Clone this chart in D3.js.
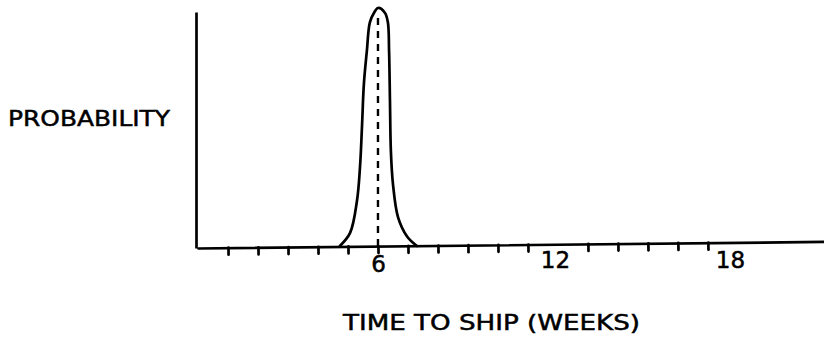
<!DOCTYPE html>
<html lang="en">
<head>
  <meta charset="UTF-8">
  <title>Time to ship</title>
  <script src="https://d3js.org/d3.v7.min.js"></script>
  <style>
    body {margin: 0; padding: 0; background: #fff;}
    svg {display: block;}
    text {font-family: "DejaVu Sans", sans-serif; fill: #000; stroke: #000; stroke-width: 0.5px;}
  </style>
</head>
<body>
  <div id="chart"></div>
  <script>
    // shape of the estimate (peak normalised to 1)
    const weeks = [4.73, 5.07, 5.3, 5.4, 5.47, 5.53, 5.63, 5.73, 5.87, 6.0,
                   6.23, 6.33, 6.37, 6.4, 6.43, 6.5, 6.67, 6.97, 7.3];
    const probability = [0, 0.055, 0.19, 0.33, 0.51, 0.68, 0.82, 0.94, 0.98, 1.0,
                         0.98, 0.94, 0.82, 0.61, 0.40, 0.26, 0.12, 0.04, 0];
    const tickWeeks = [1, 2, 3, 4, 5, 6, 7, 8, 9, 10, 11, 13, 14, 15, 16, 17];
    const labelWeeks = [6, 12, 18];
    const estimate = 6;

    const width = 824, height = 338;
    const margin = {top: 8, right: 0, bottom: 90, left: 198};
    const axisY = height - margin.bottom;   // baseline, drawn with a slight upward slant

    const svg = d3.select("#chart").append("svg")
      .attr("width", width).attr("height", height);

    const x = d3.scaleLinear().domain([0, 20.87]).range([margin.left, width - margin.right]);
    const y = d3.scaleLinear().domain([0, 1]).range([axisY - 2, margin.top]);
    const yAxisScale = d3.scaleLinear().domain([0, 1]).range([axisY, 12]);

    const line = d3.line()
      .x((d, i) => x(weeks[i]))
      .y(d => y(d))
      .curve(d3.curveCatmullRom.alpha(0.5));

    svg.append("path")
      .datum(probability)
      .attr("d", line)
      .attr("fill", "none").attr("stroke", "#000")
      .attr("stroke-width", 2.7).attr("stroke-linecap", "round");

    svg.append("line")
      .attr("x1", x(estimate)).attr("x2", x(estimate))
      .attr("y1", y(0)).attr("y2", y(0.98))
      .attr("stroke", "#000").attr("stroke-width", 2.4)
      .attr("stroke-dasharray", "7,6");

    const xAxisG = svg.append("g")
      .attr("transform", `translate(0,${axisY}) rotate(-0.6,${margin.left},0)`)
      .call(d3.axisBottom(x).tickValues(tickWeeks).tickSize(7).tickSizeOuter(0).tickFormat(""));
    xAxisG.selectAll("path, line").attr("stroke", "#000").attr("stroke-width", 2.7)
      .attr("stroke-linecap", "round");

    const yAxisG = svg.append("g")
      .attr("transform", `translate(${margin.left - 2},0)`)
      .call(d3.axisLeft(yAxisScale).tickValues([]).tickSizeOuter(0));
    yAxisG.select(".domain").attr("stroke", "#000").attr("stroke-width", 2.7);

    const labelG = svg.append("g")
      .attr("transform", `translate(0,${axisY})`)
      .call(d3.axisBottom(x).tickValues(labelWeeks).tickSize(0).tickPadding(8));
    labelG.select(".domain").remove();
    labelG.selectAll("text")
      .attr("font-size", 23)
      .attr("font-family", "DejaVu Sans, sans-serif")
      .attr("dx", (d, i) => [0, -3, -8][i])
      .attr("dy", (d, i) => ["0.71em", "0.5em", "0.5em"][i]);

    svg.append("text")
      .attr("x", 8).attr("y", 126)
      .attr("font-size", 22)
      .attr("textLength", 162).attr("lengthAdjust", "spacingAndGlyphs")
      .text("PROBABILITY");

    svg.append("text")
      .attr("x", 343).attr("y", 330)
      .attr("font-size", 22)
      .attr("textLength", 297).attr("lengthAdjust", "spacingAndGlyphs")
      .text("TIME TO SHIP (WEEKS)");
  </script>
</body>
</html>
